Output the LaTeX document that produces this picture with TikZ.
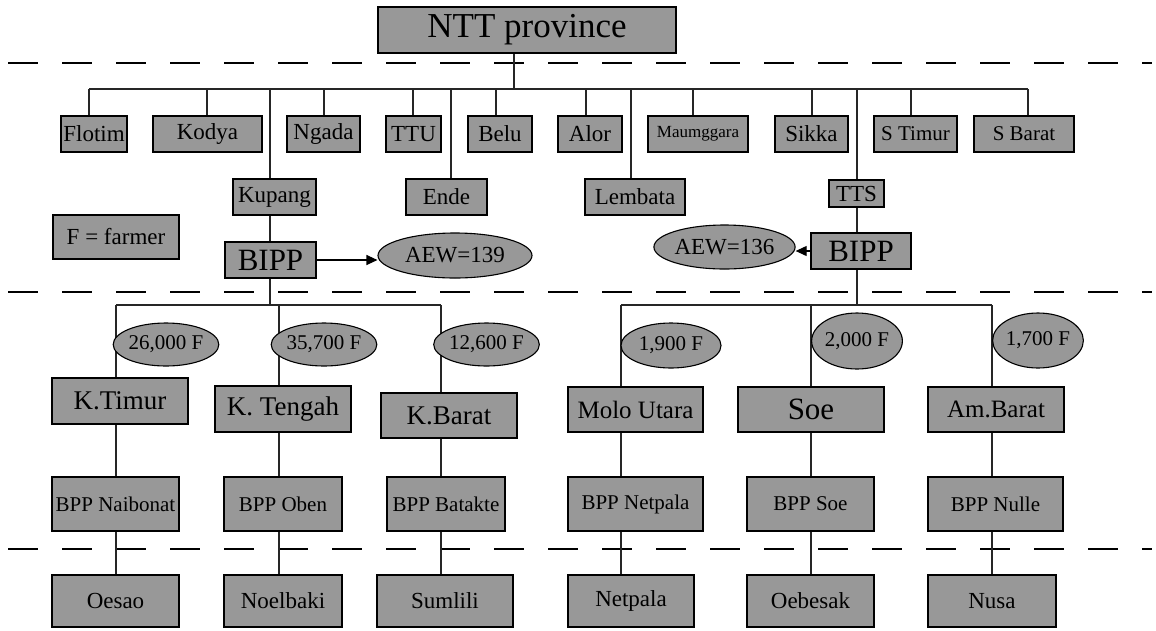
\documentclass[tikz,border=0pt]{standalone}
\usepackage{fontspec}
\setmainfont{Liberation Serif}
\usetikzlibrary{shapes.geometric,arrows.meta,backgrounds}
\definecolor{boxgray}{RGB}{152,152,152}
\begin{document}
\begin{tikzpicture}[x=1pt,y=-1pt,
  box/.style={draw=black, line width=1.3pt, fill=boxgray, inner sep=0pt, align=center, text=black},
  oval/.style={ellipse, draw=black, line width=1.1pt, fill=boxgray, inner sep=0pt, text=black},
  fa/.style={font=\fontsize{21}{23}\selectfont},
  fb/.style={font=\fontsize{23}{25}\selectfont},
  fc/.style={font=\fontsize{27}{29}\selectfont},
  fd/.style={font=\fontsize{31}{33}\selectfont},
  link/.style={draw=black!85, line width=1.1pt},
  sepline/.style={draw=black, line width=1.8pt, dash pattern=on 30pt off 24pt},
  pointer/.style={draw=black, line width=1.1pt, -{Triangle[length=11pt,width=10pt]}}]
\useasboundingbox (0,0) rectangle (1156,630);

% province
\node[box, minimum width=298, minimum height=46, font=\fontsize{35}{37}\selectfont] (ntt) at (527,30) {NTT province};

% districts, first row
\node[box, fb, minimum width=66,  minimum height=36] (flotim) at (94,134)    {Flotim};
\node[box, fb, minimum width=109, minimum height=36] (kodya)  at (207.5,134) {Kodya};
\node[box, fb, minimum width=73,  minimum height=36] (ngada)  at (323.5,134) {Ngada};
\node[box, fb, minimum width=55,  minimum height=36] (ttu)    at (413.5,134) {TTU};
\node[box, fb, minimum width=64,  minimum height=36] (belu)   at (500,134)   {Belu};
\node[box, fb, minimum width=64,  minimum height=36] (alor)   at (590,134)   {Alor};
\node[box, minimum width=100, minimum height=36, font=\fontsize{17}{19}\selectfont] (maum) at (698,134) {Maumggara};
\node[box, fb, minimum width=73,  minimum height=36] (sikka)  at (811.5,134) {Sikka};
\node[box, fa, minimum width=83,  minimum height=36] (stimur) at (915.5,134) {S Timur};
\node[box, fa, minimum width=100, minimum height=36] (sbarat) at (1024,134)  {S Barat};

% districts, second row
\node[box, fb, minimum width=83,  minimum height=36] (kupang)  at (274.5,197) {Kupang};
\node[box, fb, minimum width=81,  minimum height=36] (ende)    at (446.5,197) {Ende};
\node[box, fb, minimum width=100, minimum height=36] (lembata) at (635,197)   {Lembata};
\node[box, fb, minimum width=55,  minimum height=27] (tts)     at (856.5,193.5) {TTS};

% legend
\node[box, fb, minimum width=126, minimum height=44] (legend) at (116,237) {F = farmer};

% BIPP offices and extension workers
\node[box, fd, minimum width=91,  minimum height=36] (bippL) at (270.5,260) {BIPP};
\node[oval, fb, minimum width=154, minimum height=45] (aewL) at (455,255.5) {AEW=139};
\node[box, fd, minimum width=100, minimum height=36] (bippR) at (861,251) {BIPP};
\node[oval, fb, minimum width=135, minimum height=44] (aewR) at (724.5,247) {AEW=136};

% farmer counts
\node[oval, fa, minimum width=98,  minimum height=43] (f1) at (166,344.5)  {26,000 F};
\node[oval, fa, minimum width=90,  minimum height=43] (f2) at (324,344.5)  {35,700 F};
\node[oval, fa, minimum width=91,  minimum height=43] (f3) at (486.5,344.5) {12,600 F};
\node[oval, fa, minimum width=100, minimum height=45] (f4) at (671,345.5)  {1,900 F};
\node[oval, fa, minimum width=90,  minimum height=56] (f5) at (857,341)    {2,000 F};
\node[oval, fa, minimum width=90,  minimum height=55] (f6) at (1038,340.5) {1,700 F};

% sub-districts
\node[box, fc, minimum width=136, minimum height=46] (ktimur)  at (120,401)   {K.Timur};
\node[box, fc, minimum width=136, minimum height=46] (ktengah) at (283,409)   {K. Tengah};
\node[box, fc, minimum width=136, minimum height=45] (kbarat)  at (449,415.5) {K.Barat};
\node[box, minimum width=135, minimum height=45, font=\fontsize{25}{27}\selectfont] (molo) at (635.5,409.5) {Molo Utara};
\node[box, fd, minimum width=146, minimum height=45] (soe)     at (811,409.5) {Soe};
\node[box, minimum width=136, minimum height=45, font=\fontsize{25}{27}\selectfont] (ambarat) at (996,409.5) {Am.Barat};

% extension centres
\node[box, fa, minimum width=127, minimum height=54] (bpp1) at (115.5,504) {BPP Naibonat};
\node[box, fa, minimum width=118, minimum height=54] (bpp2) at (283,504)   {BPP Oben};
\node[box, fa, minimum width=118, minimum height=54] (bpp3) at (446,504)   {BPP Batakte};
\node[box, fa, minimum width=135, minimum height=54] (bpp4) at (635.5,504) {BPP Netpala};
\node[box, fa, minimum width=127, minimum height=54] (bpp5) at (810.5,504) {BPP Soe};
\node[box, fa, minimum width=135, minimum height=54] (bpp6) at (995.5,504) {BPP Nulle};

% villages
\node[box, fb, minimum width=127, minimum height=52] (v1) at (115.5,601) {Oesao};
\node[box, fb, minimum width=118, minimum height=52] (v2) at (283,601)   {Noelbaki};
\node[box, fb, minimum width=136, minimum height=52] (v3) at (445,601)   {Sumlili};
\node[box, fb, minimum width=126, minimum height=52] (v4) at (631,601)   {Netpala};
\node[box, fb, minimum width=127, minimum height=52] (v5) at (810.5,601) {Oebesak};
\node[box, fb, minimum width=128, minimum height=52] (v6) at (992,601)   {Nusa};

% junction points on the upper bus
\coordinate (b-ntt)     at (514,89);
\coordinate (b-flotim)  at (89,89);
\coordinate (b-kodya)   at (207,89);
\coordinate (b-kupang)  at (270,89);
\coordinate (b-ngada)   at (324,89);
\coordinate (b-ttu)     at (413,89);
\coordinate (b-ende)    at (451,89);
\coordinate (b-belu)    at (496,89);
\coordinate (b-alor)    at (586,89);
\coordinate (b-lembata) at (631,89);
\coordinate (b-maum)    at (693,89);
\coordinate (b-sikka)   at (812,89);
\coordinate (b-tts)     at (857,89);
\coordinate (b-stimur)  at (911,89);
\coordinate (b-sbarat)  at (1028,89);

% junction points on the lower buses
\coordinate (jL) at (270,305);
\coordinate (jR) at (857,305);
\coordinate (c1) at (116,305);
\coordinate (c2) at (279,305);
\coordinate (c3) at (441,305);
\coordinate (c4) at (621,305);
\coordinate (c5) at (811,305);
\coordinate (c6) at (992,305);

\begin{pgfonlayer}{background}
  \fill[white] (0,0) rectangle (1156,630);

  % level separators
  \draw[sepline] (8,63) -- (1152,63);
  \draw[sepline] (8,292) -- (1152,292);
  \draw[sepline] (8,549) -- (1152,549);

  % province to districts
  \draw[link] (ntt.south -| b-ntt) -- (b-ntt);
  \draw[link] (b-flotim) -- (b-sbarat);
  \foreach \d in {flotim,kodya,kupang,ngada,ttu,ende,belu,alor,lembata,maum,sikka,tts,stimur,sbarat}
    \draw[link] (b-\d) -- (b-\d |- \d.north);

  % Kupang branch
  \draw[link] (kupang.south -| b-kupang) -- (bippL.north -| b-kupang);
  \draw[link] (bippL.south -| b-kupang) -- (jL);
  \draw[link] (c1) -- (c3);

  % TTS branch
  \draw[link] (tts.south -| b-tts) -- (bippR.north -| b-tts);
  \draw[link] (bippR.south -| b-tts) -- (jR);
  \draw[link] (c4) -- (c6);

  % sub-district columns
  \foreach \i/\k/\b/\v in {1/ktimur/bpp1/v1, 2/ktengah/bpp2/v2, 3/kbarat/bpp3/v3,
                           4/molo/bpp4/v4, 5/soe/bpp5/v5, 6/ambarat/bpp6/v6} {
    \draw[link] (c\i) -- (c\i |- \k.north);
    \draw[link] (\k.south -| c\i) -- (\b.north -| c\i);
    \draw[link] (\b.south -| c\i) -- (\v.north -| c\i);
  }
\end{pgfonlayer}

% BIPP to extension workers
\draw[pointer] (bippL.east) -- (bippL.east -| aewL.west);
\draw[pointer] (bippR.west) -- (bippR.west -| aewR.east);
\end{tikzpicture}
\end{document}
